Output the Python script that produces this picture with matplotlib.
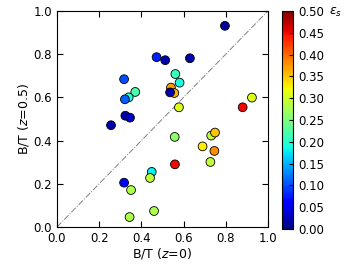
import numpy as np
import matplotlib
matplotlib.use("Agg")
import matplotlib.pyplot as plt

# B/T at z=0, B/T at z=0.5, and epsilon_s for each galaxy
bt_z0 = [0.796, 0.472, 0.513, 0.630, 0.318, 0.561, 0.581, 0.540, 0.556, 0.536,
         0.371, 0.340, 0.322, 0.578, 0.880, 0.924, 0.324, 0.346, 0.256, 0.558,
         0.731, 0.749, 0.690, 0.746, 0.559, 0.727, 0.449, 0.441, 0.318, 0.351,
         0.460, 0.344]
bt_z05 = [0.931, 0.786, 0.772, 0.781, 0.684, 0.708, 0.668, 0.645, 0.620, 0.623,
          0.625, 0.600, 0.591, 0.554, 0.554, 0.599, 0.515, 0.506, 0.471, 0.417,
          0.423, 0.437, 0.373, 0.352, 0.290, 0.301, 0.255, 0.227, 0.205, 0.171,
          0.074, 0.046]
eps_s = [0.01, 0.08, 0.02, 0.02, 0.10, 0.21, 0.19, 0.37, 0.36, 0.02,
         0.22, 0.20, 0.11, 0.31, 0.45, 0.31, 0.02, 0.03, 0.02, 0.26,
         0.29, 0.35, 0.33, 0.38, 0.45, 0.29, 0.18, 0.29, 0.06, 0.28,
         0.28, 0.28]

fig = plt.figure(figsize=(3.54, 2.73), dpi=100)
ax = fig.add_axes([0.161, 0.1685, 0.596, 0.7915])
cax = fig.add_axes([0.797, 0.161, 0.031, 0.799])

ax.plot([0, 1], [0, 1], color='gray', linestyle='-.', linewidth=0.7)
sc = ax.scatter(bt_z0, bt_z05, c=eps_s, cmap='jet', vmin=0, vmax=0.5,
                s=40, edgecolors='black', linewidths=0.6, zorder=3)

ax.set_xlim(0, 1)
ax.set_ylim(0, 1)
ax.set_xticks(np.arange(0, 1.01, 0.2))
ax.set_yticks(np.arange(0, 1.01, 0.2))
ax.tick_params(direction='in', top=True, right=True, labelsize=8.5, length=4)
ax.set_xlabel(r'B/T ($z$=0)', fontsize=9, labelpad=1)
ax.set_ylabel(r'B/T ($z$=0.5)', fontsize=9, labelpad=2)

cb = fig.colorbar(sc, cax=cax, ticks=np.arange(0, 0.501, 0.05))
cb.ax.set_yticklabels(['%.2f' % t for t in np.arange(0, 0.501, 0.05)])
cb.ax.tick_params(labelsize=8.5, direction='in', length=3)
fig.text(0.93, 0.955, r'$\epsilon_s$', fontsize=9, va='center', ha='left')

fig.savefig('out.png', dpi=100)
